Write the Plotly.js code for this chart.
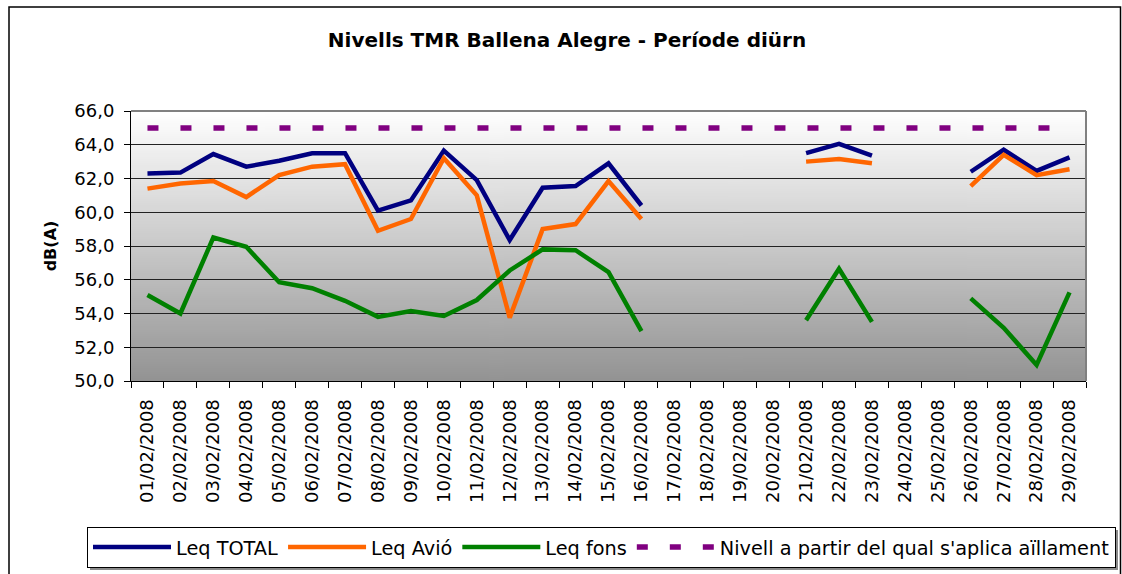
<!DOCTYPE html>
<html>
<head>
<meta charset="utf-8">
<script src="https://cdn.plot.ly/plotly-3.0.1.min.js"></script>
<style>html,body{margin:0;padding:0;background:#fff;}</style>
</head>
<body>
<div id="chart" style="width:1122px;height:574px;"></div>
<script>
var dates = ["01/02/2008","02/02/2008","03/02/2008","04/02/2008","05/02/2008","06/02/2008","07/02/2008","08/02/2008","09/02/2008","10/02/2008","11/02/2008","12/02/2008","13/02/2008","14/02/2008","15/02/2008","16/02/2008","17/02/2008","18/02/2008","19/02/2008","20/02/2008","21/02/2008","22/02/2008","23/02/2008","24/02/2008","25/02/2008","26/02/2008","27/02/2008","28/02/2008","29/02/2008"];
var leqTotal = [62.3,62.35,63.45,62.7,63.05,63.5,63.5,60.1,60.7,63.65,61.9,58.35,61.45,61.55,62.9,60.4,null,null,null,null,63.5,64.05,63.35,null,null,62.4,63.7,62.45,63.25];
var leqAvio = [61.4,61.7,61.85,60.9,62.2,62.7,62.85,58.9,59.6,63.2,61.0,53.75,59.0,59.3,61.85,59.6,null,null,null,null,63.0,63.15,62.9,null,null,61.55,63.4,62.2,62.55];
var leqFons = [55.1,54.0,58.5,57.95,55.85,55.5,54.75,53.8,54.15,53.85,54.8,56.55,57.8,57.75,56.45,52.95,null,null,null,null,53.6,56.65,53.5,null,null,54.9,53.15,50.95,55.25];
var nivell = [65,65,65,65,65,65,65,65,65,65,65,65,65,65,65,65,65,65,65,65,65,65,65,65,65,65,65,65,65];
var seriesNames = ["Leq TOTAL","Leq Avió","Leq fons","Nivell a partir del qual s'aplica aïllament"];

// gradient background for plot area
var cv = document.createElement('canvas');
cv.width = 4; cv.height = 256;
var ctx = cv.getContext('2d');
var grd = ctx.createLinearGradient(0,0,0,256);
grd.addColorStop(0,'#ffffff');
grd.addColorStop(1,'#939393');
ctx.fillStyle = grd; ctx.fillRect(0,0,4,256);
var gradURL = cv.toDataURL('image/png');

var W = 1122, H = 574;
var PL = 131, PR = 1086, PT = 111, PB = 381;
var PW = PR - PL, PH = PB - PT;
var FONT = 'DejaVu Sans, Arial, sans-serif';

var traces = [
  {x: dates, y: leqTotal, name: seriesNames[0], type: 'scatter', mode: 'lines', connectgaps: false, line: {color: '#000080', width: 4.5}},
  {x: dates, y: leqAvio, name: seriesNames[1], type: 'scatter', mode: 'lines', connectgaps: false, line: {color: '#FF6600', width: 4.5}},
  {x: dates, y: leqFons, name: seriesNames[2], type: 'scatter', mode: 'lines', connectgaps: false, line: {color: '#008000', width: 4.5}},
  {x: dates, y: nivell, name: seriesNames[3], type: 'scatter', mode: 'lines', line: {color: '#800080', width: 5.5, dash: '11px,22px'}}
];

function px(xp){ return (xp - PL) / PW; }
function py(yp){ return (PB - yp) / PH; }

var layout = {
  width: W, height: H,
  margin: {l: PL, r: W - PR, t: PT, b: H - PB, pad: 0, autoexpand: false},
  paper_bgcolor: '#ffffff',
  plot_bgcolor: 'rgba(0,0,0,0)',
  separators: ',.',
  font: {family: FONT, color: '#000', size: 18},
  title: {text: '<b>Nivells TMR Ballena Alegre - Període diürn</b>', font: {family: FONT, size: 20, color: '#000'},
          x: 567/W, xanchor: 'center', xref: 'container', y: 1 - 40/H, yanchor: 'middle', yref: 'container'},
  xaxis: {type: 'category', tickson: 'boundaries', ticks: 'outside', ticklen: 6, tickcolor: '#000', tickwidth: 1,
          tickangle: -90, showgrid: false, showline: true, linecolor: '#000', linewidth: 1, zeroline: false,
          ticklabelstandoff: 10, automargin: false,
          tickfont: {family: FONT, size: 18, color: '#000'}, range: [-0.5, 28.5], fixedrange: true},
  yaxis: {range: [50, 66], dtick: 2, tick0: 50, tickformat: '.1f', ticks: 'outside', ticklen: 6, tickcolor: '#000',
          showline: true, linecolor: '#000', linewidth: 1, showgrid: true, gridcolor: '#222', gridwidth: 1, zeroline: false,
          ticklabelstandoff: 6, automargin: false,
          tickfont: {family: FONT, size: 18, color: '#000'},
          title: {text: '<b>dB(A)</b>', font: {family: FONT, size: 16, color: '#000'}, standoff: 13}, fixedrange: true},
  showlegend: true,
  legend: {orientation: 'h', xref: 'paper', yref: 'paper', x: px(87), y: py(527), xanchor: 'left', yanchor: 'top',
           bgcolor: '#ffffff', bordercolor: '#000', borderwidth: 1, font: {family: FONT, size: 19.3, color: '#000'},
           itemwidth: 78, tracegroupgap: 0},
  images: [{source: gradURL, xref: 'paper', yref: 'paper', x: 0, y: 1, sizex: 1, sizey: 1, sizing: 'stretch', layer: 'below'}],
  shapes: [
    // outer chart frame
    {type: 'rect', xref: 'paper', yref: 'paper', x0: px(9), x1: px(1120.5), y0: py(H + 10), y1: py(7),
     line: {color: '#000', width: 1.5}, fillcolor: 'rgba(0,0,0,0)', layer: 'below'},
    // legend shadow
    {type: 'rect', xref: 'paper', yref: 'paper', x0: px(90), x1: px(1118), y0: py(570), y1: py(530),
     line: {width: 0}, fillcolor: '#8a8a8a', layer: 'below'},
    // plot area top and right borders (gray)
    {type: 'line', xref: 'paper', yref: 'paper', x0: 0, x1: 1, y0: 1, y1: 1, line: {color: '#808080', width: 2}},
    {type: 'line', xref: 'paper', yref: 'paper', x0: 1, x1: 1, y0: 0, y1: 1, line: {color: '#808080', width: 2}}
  ]
};

Plotly.newPlot('chart', traces, layout, {displayModeBar: false, staticPlot: true});
</script>
</body>
</html>
